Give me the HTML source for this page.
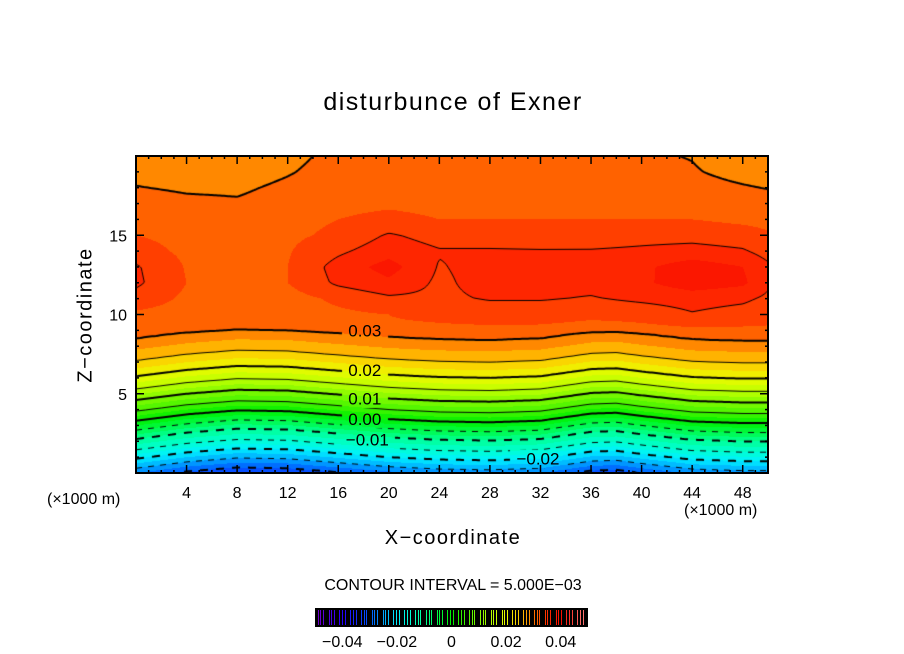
<!DOCTYPE html>
<html><head><meta charset="utf-8"><style>
body{margin:0;background:#fff;width:904px;height:654px;overflow:hidden;position:relative;font-family:"Liberation Sans",sans-serif;}
.t{position:absolute;white-space:nowrap;color:#000;}
</style></head><body>
<div class="t" style="left:0;width:906px;text-align:center;top:88px;font-size:25px;letter-spacing:1.5px;">disturbunce of Exner</div>
<div class="t" style="left:0;width:906px;text-align:center;top:527px;font-size:20px;letter-spacing:1.5px;">X−coordinate</div>
<div class="t" style="left:86px;top:315px;font-size:20px;letter-spacing:1.5px;transform:translate(-50%,-50%) rotate(-90deg);">Z−coordinate</div>
<div class="t" style="left:47px;top:491px;font-size:16px;">(×1000 m)</div>
<div class="t" style="left:684px;top:502px;font-size:16px;">(×1000 m)</div>
<div class="t" style="left:0;width:906px;text-align:center;top:577px;font-size:16px;">CONTOUR INTERVAL = 5.000E−03</div>
<svg id="ax" width="904" height="654" style="position:absolute;left:0;top:0;"></svg>
<canvas id="cv" width="632" height="317" style="position:absolute;left:136px;top:156px;"></canvas>
<svg id="ov" width="904" height="654" style="position:absolute;left:0;top:0;"></svg>
<script>
// reference vertical profile (contour heights at x=0)
const profileZ=[0,0.3,0.9,1.46,2.15,2.7,3.3,3.9,4.6,5.3,6.1,7.09,8.48,9.6,10.5];
const profileV=[-0.0275,-0.025,-0.02,-0.015,-0.01,-0.005,0,0.005,0.01,0.015,0.02,0.025,0.03,0.032,0.033];
// vertical displacement of the lower layers along x
const shiftX=[0,4,8,12,16,20,24,28,32,36,38,40,44,48,50];
const shiftV=[0,0.4,0.65,0.6,0.35,0.1,-0.05,-0.1,0.0,0.45,0.5,0.3,-0.05,-0.15,-0.15];
// upper-layer grid (x1e-3)
const gridX=[0,4,8,12,16,20,24,28,32,36,40,44,48,50];
const gridZ=[10,11,12,13,14,15,16,17,18,19,20];
const gridV=[
[32,31.5,31,31.5,32,32.5,33,33.5,33.5,33,33.5,34.8,34,33.5],
[34,32,31,31.5,33,34.5,34.5,35.2,35.2,34.8,35.5,36,35.5,34.5],
[35.5,32.5,32,32.5,35.5,37,34.5,36,35.8,35.8,37,39,38,35.5],
[35.3,32.3,32,32.5,36,38.5,34.8,36,36,36,37,38.8,37.5,35.5],
[33.5,32,31.8,32.3,34.5,36.5,35.2,35.3,35.2,35.2,35.5,36,35.3,34],
[32.5,31.8,31.7,32,33,35.3,34,33.5,33.3,33.5,34,34,33.5,32.8],
[32,31.5,31.3,31.8,32.5,33,32.5,32.5,32.5,32.5,32.5,32.5,32,31.8],
[31,30.5,30.3,31,32,32.2,32,32,32,32,32,31.8,31.3,31],
[30.1,29.7,29.6,30.5,31.5,31.8,31.8,31.8,31.8,31.8,31.3,30.8,30.2,29.9],
[29.3,28.8,28.8,29.8,31,31.5,31.5,31.5,31.5,31.2,30.7,30.2,29.3,29],
[28.5,28,28,29.3,30.7,31.2,31.3,31.3,31.2,30.8,30.3,29.9,28.7,28.3]];
const cmapV=[-0.05,-0.04,-0.03,-0.025,-0.02,-0.015,-0.01,-0.005,0,0.005,0.01,0.015,0.02,0.025,0.03,0.035,0.04,0.05];
const cmapC=[[120,0,200],[40,0,255],[0,90,255],[0,170,255],[0,240,255],[0,255,210],[0,255,150],[0,250,70],[0,240,0],[70,245,0],[130,250,0],[190,255,0],[235,250,0],[255,200,0],[255,115,0],[255,45,0],[250,15,0],[255,140,140]];
const xTicks=[4,8,12,16,20,24,28,32,36,40,44,48];
const yTicks=[5,10,15];
const cbTicks=[-0.04,-0.02,0,0.02,0.04];
const cbLabels=["−0.04","−0.02","0","0.02","0.04"];
const contourLabels=[["0.03",18.1,9.0],["0.02",18.1,6.5],["0.01",18.1,4.7],["0.00",18.1,3.4],["−0.01",18.3,2.1],["−0.02",31.8,0.9]];

const X0=136,X1=768,Y0=156,Y1=473;
const sx=x=>X0+(x/50)*(X1-X0), sy=z=>Y1-(z/20)*(Y1-Y0);
function interp(xs,ys,x){if(x<=xs[0])return ys[0]+(x-xs[0])*(ys[1]-ys[0])/(xs[1]-xs[0]);
 for(let i=1;i<xs.length;i++)if(x<=xs[i]){const t=(x-xs[i-1])/(xs[i]-xs[i-1]);return ys[i-1]+t*(ys[i]-ys[i-1]);}
 const n=xs.length;return ys[n-1]+(x-xs[n-1])*(ys[n-1]-ys[n-2])/(xs[n-1]-xs[n-2]);}
function upper(x,z){z=Math.max(gridZ[0],Math.min(gridZ[gridZ.length-1],z));
 let j=0;while(j<gridZ.length-2&&z>gridZ[j+1])j++;const t=(z-gridZ[j])/(gridZ[j+1]-gridZ[j]);
 return (interp(gridX,gridV[j],x)*(1-t)+interp(gridX,gridV[j+1],x)*t)/1000;}
function field(x,z){const lo=interp(profileZ,profileV,z-interp(shiftX,shiftV,x));
 if(z<8.8)return lo; const up=upper(x,z); if(z>=10)return up; const w=(z-8.8)/1.2;
 const lo2=Math.min(lo,upper(x,10)); return lo2*(1-w)+up*w;}
function cmap(v){v=Math.max(-0.05,Math.min(0.05,v));let i=1;while(i<cmapV.length-1&&v>cmapV[i])i++;
 const t=(v-cmapV[i-1])/(cmapV[i]-cmapV[i-1]);return cmapC[i-1].map((c,k)=>Math.round(c+t*(cmapC[i][k]-c)));}

const cv=document.getElementById('cv'),ctx=cv.getContext('2d');
const W=632,H=317,img=ctx.createImageData(W,H);
for(let j=0;j<H;j++)for(let i=0;i<W;i++){const x=(i+0.5)/W*50,z=20-(j+0.5)/H*20;
 const v=field(x,z);const b=Math.floor(v/0.0025);const c=cmap((b+0.5)*0.0025);const p=(j*W+i)*4;
 img.data[p]=c[0];img.data[p+1]=c[1];img.data[p+2]=c[2];img.data[p+3]=255;}
ctx.putImageData(img,0,0);
// contours
const S=2,NI=Math.ceil(W/S)+1,NJ=Math.ceil(H/S)+1,vals=[];
for(let j=0;j<NJ;j++){vals[j]=[];for(let i=0;i<NI;i++)vals[j][i]=field(Math.min(W,i*S)/W*50,20-Math.min(H,j*S)/H*20);}
for(let k=-6;k<=8;k++){const L=k*0.005;const thick=(k%2===0);const dashed=k<0;
 ctx.beginPath();ctx.lineWidth=thick?2:1;ctx.strokeStyle='#000';
 for(let j=0;j<NJ-1;j++)for(let i=0;i<NI-1;i++){
  const a=vals[j][i],b=vals[j][i+1],c=vals[j+1][i+1],d=vals[j+1][i];
  const pts=[];const x0=i*S,y0=j*S;
  if((a-L)*(b-L)<0)pts.push([x0+S*(L-a)/(b-a),y0]);
  if((b-L)*(c-L)<0)pts.push([x0+S,y0+S*(L-b)/(c-b)]);
  if((d-L)*(c-L)<0)pts.push([x0+S*(L-d)/(c-d),y0+S]);
  if((a-L)*(d-L)<0)pts.push([x0,y0+S*(L-a)/(d-a)]);
  for(let q=0;q+1<pts.length;q+=2){const mx=(pts[q][0]+pts[q+1][0])/2;
   if(dashed&&Math.floor(mx/(thick?8:6))%2===1)continue;
   ctx.moveTo(pts[q][0],pts[q][1]);ctx.lineTo(pts[q+1][0],pts[q+1][1]);}
 }
 ctx.stroke();}
// clear label gaps
const ov=document.getElementById('ov');const NS='http://www.w3.org/2000/svg';
contourLabels.forEach(l=>{const cx=sx(l[1])-X0,cy=sy(l[2])-Y0;const w=l[0].length*10+6;
 ctx.putImageData(img,0,0,Math.round(cx-w/2),Math.round(cy-9),w,18);
 const t=document.createElementNS(NS,'text');t.setAttribute('x',sx(l[1]));t.setAttribute('y',sy(l[2])+6);
 t.setAttribute('text-anchor','middle');t.setAttribute('font-size','17');t.setAttribute('font-family','Liberation Sans, sans-serif');
 
 
 t.textContent=l[0];ov.appendChild(t);});
// axes
function mk(tag,attrs){const e=document.createElementNS(NS,tag);for(const k in attrs)e.setAttribute(k,attrs[k]);return e;}
function line(x1,y1,x2,y2,w){const e=mk('line',{x1,y1,x2,y2,stroke:'#000','stroke-width':w});ov.appendChild(e);return e;}
const fr=mk('rect',{x:X0,y:Y0,width:X1-X0,height:Y1-Y0,fill:'none',stroke:'#000','stroke-width':2});


ov.appendChild(fr);
for(let x=1;x<50;x++){const major=x%4===0;const len=major?8:3;const px=sx(x);
 line(px,Y1,px,Y1-len,1.5);line(px,Y0,px,Y0+len,1.5);}
for(let z=1;z<20;z++){const major=z%5===0;const len=major?8:3;const py=sy(z);
 line(X0,py,X0+len,py,1.5);line(X1,py,X1-len,py,1.5);}
xTicks.forEach(v=>{const t=mk('text',{x:sx(v),y:498,'text-anchor':'middle','font-size':'16','font-family':'Liberation Sans, sans-serif'});
 
 
 t.textContent=v;ov.appendChild(t);});
yTicks.forEach(v=>{const t=mk('text',{x:127,y:sy(v)+6,'text-anchor':'end','font-size':'16','font-family':'Liberation Sans, sans-serif'});
 
 
 t.textContent=v;ov.appendChild(t);});
// colorbar
const CB0=315,CB1=588,cbx=v=>CB0+(v+0.05)/0.1*(CB1-CB0);
const cb=mk('rect',{x:CB0,y:608,width:CB1-CB0,height:19,fill:'#000'});


ov.appendChild(cb);
for(let i=0;i<100;i++){if(i%4===3)continue;const v=-0.049+i*0.00099;const c=cmap(v);const px=Math.round(cbx(v))+0.5;
 const e=mk('line',{x1:px,y1:610,x2:px,y2:625,stroke:`rgb(${c[0]},${c[1]},${c[2]})`,'stroke-width':1});
 
 
 ov.appendChild(e);}
cbTicks.forEach((v,i)=>{const t=mk('text',{x:cbx(v),y:647,'text-anchor':'middle','font-size':'16','font-family':'Liberation Sans, sans-serif'});
 
 
 t.textContent=cbLabels[i];ov.appendChild(t);});
</script>
</body></html>
